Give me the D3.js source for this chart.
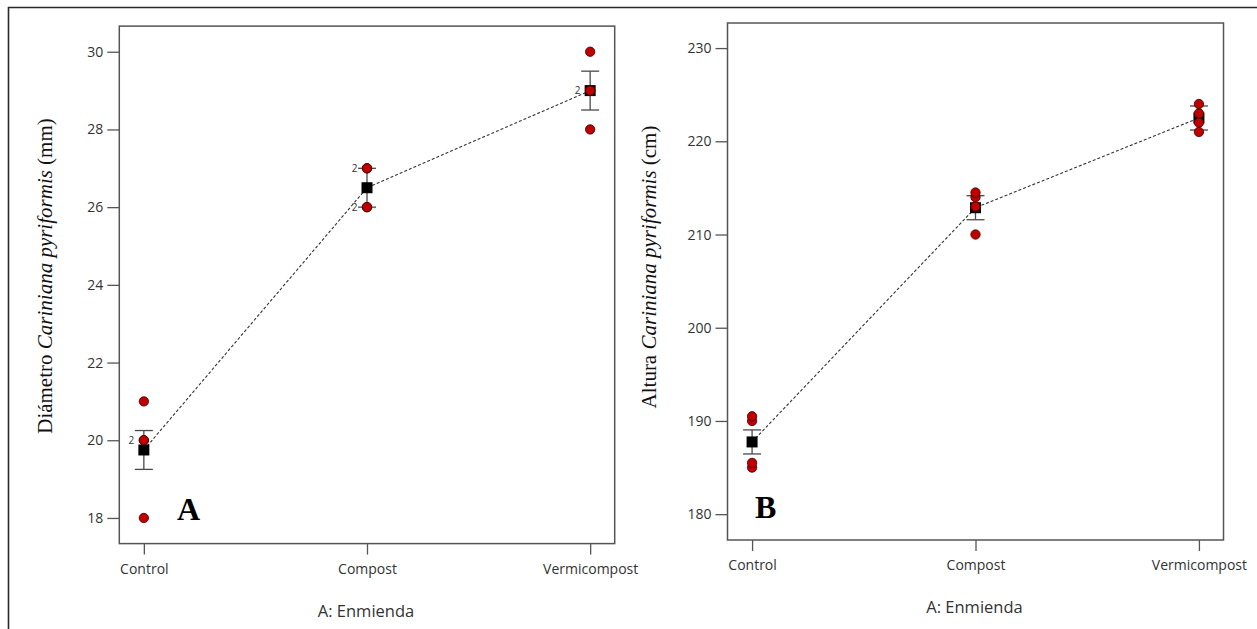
<!DOCTYPE html>
<html>
<head>
<meta charset="utf-8">
<script src="https://cdn.jsdelivr.net/npm/d3@7"></script>
<style>
  html, body { margin: 0; padding: 0; background: #fff; }
  svg { display: block; }
</style>
</head>
<body>
<svg id="chart" width="1257" height="629"></svg>
<script>
// Treatments (factor A: Enmienda)
const categories = ["Control", "Compost", "Vermicompost"];

// Stem diameter (mm): observations, treatment means, half-width of the interval bars
const diamObs = [[18, 20, 20, 21], [26, 26, 27, 27], [28, 29, 29, 30]];
const diamMean = [19.75, 26.5, 29];
const diamHalf = 0.5;
const diamTicks = [18, 20, 22, 24, 26, 28, 30];

// Plant height (cm)
const alturaObs = [[185, 185.5, 190, 190.5], [210, 213, 214, 214.5], [221, 222, 223, 224]];
const alturaMean = [187.75, 212.875, 222.5];
const alturaHalf = 1.29;
const alturaTicks = [180, 190, 200, 210, 220, 230];

const svg = d3.select("#chart");

// outer frame (top and left edges)
svg.append("path")
  .attr("d", "M8.5,629 L8.5,7.5 L1257,7.5")
  .attr("fill", "none").attr("stroke", "#2a2a2a").attr("stroke-width", 1.6);

function panel(cfg) {
  const g = svg.append("g");
  const x = d3.scalePoint().domain(categories).range([cfg.left, cfg.right]).padding(0.11);
  const y = d3.scaleLinear().domain(cfg.domain).range([cfg.bottom, cfg.top]);

  // plot frame
  g.append("rect")
    .attr("x", cfg.left).attr("y", cfg.top)
    .attr("width", cfg.right - cfg.left).attr("height", cfg.bottom - cfg.top)
    .attr("fill", "none").attr("stroke", "#555").attr("stroke-width", 1.5);

  // y axis
  const ya = g.append("g").attr("transform", `translate(${cfg.left},0)`)
    .call(d3.axisLeft(y).tickValues(cfg.ticks).tickSize(12).tickPadding(4).tickFormat(d3.format("d")));
  ya.select(".domain").remove();
  ya.selectAll("line").attr("stroke", "#555").attr("stroke-width", 1.3);
  ya.selectAll("text").attr("font-family", "'Open Sans', sans-serif").attr("font-size", 14).attr("fill", "#333");

  // x axis
  const xa = g.append("g").attr("transform", `translate(0,${cfg.bottom})`)
    .call(d3.axisBottom(x).tickSize(11).tickPadding(9));
  xa.select(".domain").remove();
  xa.selectAll("line").attr("stroke", "#555").attr("stroke-width", 1.3);
  xa.selectAll("text").attr("font-family", "'Open Sans', sans-serif").attr("font-size", 14).attr("fill", "#333");

  // axis titles
  g.append("text")
    .attr("x", (cfg.left + cfg.right) / 2 - 1).attr("y", cfg.bottom + 73)
    .attr("text-anchor", "middle")
    .attr("font-family", "'Open Sans', sans-serif").attr("font-size", 16.5).attr("fill", "#333")
    .text("A: Enmienda");

  const yl = g.append("text")
    .attr("transform", `translate(${cfg.ylabX},${cfg.ylabY}) rotate(-90)`)
    .attr("text-anchor", "middle")
    .attr("font-family", "'Liberation Serif', 'Times New Roman', serif").attr("font-size", 21).attr("fill", "#111");
  yl.append("tspan").text(cfg.ylab[0]);
  yl.append("tspan").attr("font-style", "italic").text(cfg.ylab[1]);
  yl.append("tspan").text(cfg.ylab[2]);

  // panel letter
  g.append("text")
    .attr("x", cfg.letterX).attr("y", cfg.letterY)
    .attr("text-anchor", "middle")
    .attr("font-family", "'Liberation Serif', 'Times New Roman', serif")
    .attr("font-weight", "bold").attr("font-size", 32).attr("fill", "#000")
    .text(cfg.letter);

  // dashed line through the treatment means
  const line = d3.line().x((d, i) => x(categories[i])).y(d => y(d));
  g.append("path").datum(cfg.mean)
    .attr("d", line).attr("fill", "none")
    .attr("stroke", "#333").attr("stroke-width", 1.1).attr("stroke-dasharray", "3,2");

  // interval bars
  const cap = 9;
  cfg.mean.forEach((m, i) => {
    const cx = x(categories[i]);
    const eg = g.append("g").attr("stroke", "#4a4a4a").attr("stroke-width", 1.3);
    eg.append("line").attr("x1", cx).attr("x2", cx).attr("y1", y(m - cfg.half)).attr("y2", y(m + cfg.half));
    eg.append("line").attr("x1", cx - cap).attr("x2", cx + cap).attr("y1", y(m - cfg.half)).attr("y2", y(m - cfg.half));
    eg.append("line").attr("x1", cx - cap).attr("x2", cx + cap).attr("y1", y(m + cfg.half)).attr("y2", y(m + cfg.half));
  });

  // mean markers
  g.selectAll(".mean").data(cfg.mean).enter().append("rect")
    .attr("x", (d, i) => x(categories[i]) - 5.5).attr("y", d => y(d) - 5.5)
    .attr("width", 11).attr("height", 11).attr("fill", "#000");

  // observations
  const pts = [];
  cfg.obs.forEach((arr, i) => arr.forEach(v => pts.push({ c: categories[i], v })));
  g.selectAll(".obs").data(pts).enter().append("circle")
    .attr("cx", d => x(d.c)).attr("cy", d => y(d.v)).attr("r", 4.7)
    .attr("fill", "#c00000").attr("stroke", "#3b0000").attr("stroke-width", 0.8);

  // count labels for repeated observations
  const reps = [];
  cfg.obs.forEach((arr, i) => {
    d3.rollups(arr, a => a.length, v => v).forEach(([v, n]) => {
      if (n > 1) reps.push({ c: categories[i], v, n });
    });
  });
  g.selectAll(".rep").data(reps).enter().append("text")
    .attr("x", d => x(d.c) - 12.5).attr("y", d => y(d.v)).attr("dy", "0.35em")
    .attr("text-anchor", "middle")
    .attr("font-family", "'Open Sans', sans-serif").attr("font-size", 10).attr("fill", "#333")
    .text(d => d.n);
}

panel({
  left: 119.3, right: 614.7, top: 26.1, bottom: 543.6,
  domain: [17.34, 30.66], ticks: diamTicks,
  obs: diamObs, mean: diamMean, half: diamHalf,
  ylab: ["Diámetro ", "Cariniana pyriformis", " (mm)"], ylabX: 52, ylabY: 276,
  letter: "A", letterX: 188.5, letterY: 520
});

panel({
  left: 727.5, right: 1223.5, top: 23, bottom: 540,
  domain: [177.23, 232.69], ticks: alturaTicks,
  obs: alturaObs, mean: alturaMean, half: alturaHalf,
  ylab: ["Altura ", "Cariniana pyriformis", " (cm)"], ylabX: 656, ylabY: 267,
  letter: "B", letterX: 765.6, letterY: 518
});
</script>
</body>
</html>
